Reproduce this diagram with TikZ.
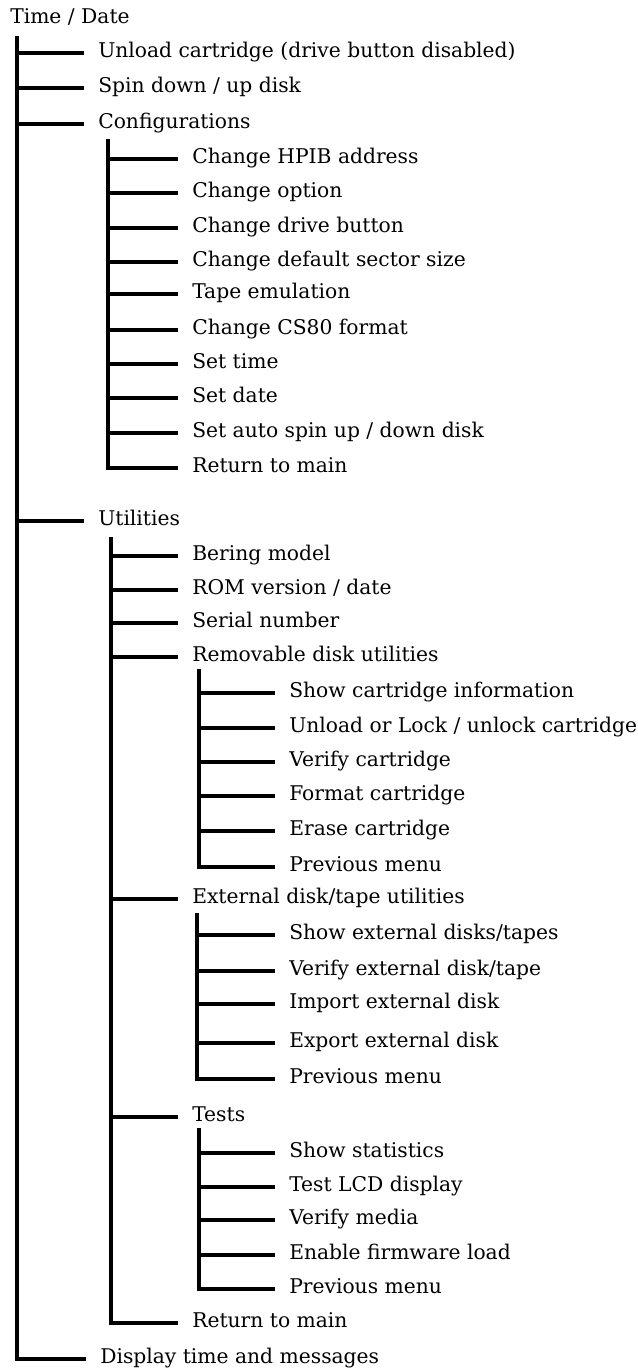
\documentclass[tikz,border=0pt]{standalone}
\usepackage{fontspec}
\setmainfont{DejaVu Serif}
\tikzset{
    item/.style={anchor=west, inner xsep=10.5pt, inner ysep=0pt, text height=1.03em, text depth=0.3em, font=\fontsize{15.2}{18}\selectfont},
    branch/.style={line width=2.6pt},
}
\begin{document}
\begin{tikzpicture}[x=0.75pt, y=-0.75pt]
    \useasboundingbox (0, 0) rectangle (638, 1369);

    \node[item, inner xsep=0pt] (root) at (10, 19) {Time / Date};

    \node[item] (unload) at (84, 53) {Unload cartridge (drive button disabled)};
    \node[item] (spin) at (84, 88) {Spin down / up disk};
    \node[item] (config) at (84, 124) {Configurations};
    \node[item] (hpib) at (178, 159) {Change HPIB address};
    \node[item] (option) at (178, 193) {Change option};
    \node[item] (button) at (178, 228) {Change drive button};
    \node[item] (sector) at (178, 262) {Change default sector size};
    \node[item] (tape) at (178, 294) {Tape emulation};
    \node[item] (cs80) at (178, 330) {Change CS80 format};
    \node[item] (settime) at (178, 364) {Set time};
    \node[item] (setdate) at (178, 398) {Set date};
    \node[item] (autospin) at (178, 433) {Set auto spin up / down disk};
    \node[item] (cfgret) at (178, 468) {Return to main};

    \node[item] (util) at (84, 521) {Utilities};
    \node[item] (bering) at (178, 556) {Bering model};
    \node[item] (rom) at (178, 590) {ROM version / date};
    \node[item] (serial) at (178, 623) {Serial number};
    \node[item] (remov) at (178, 657) {Removable disk utilities};
    \node[item] (showcart) at (275, 693) {Show cartridge information};
    \node[item] (lockcart) at (275, 728) {Unload or Lock / unlock cartridge};
    \node[item] (verifycart) at (275, 762) {Verify cartridge};
    \node[item] (fmtcart) at (275, 796) {Format cartridge};
    \node[item] (erasecart) at (275, 831) {Erase cartridge};
    \node[item] (remprev) at (275, 867) {Previous menu};
    \node[item] (extern) at (178, 899) {External disk/tape utilities};
    \node[item] (showext) at (275, 935) {Show external disks/tapes};
    \node[item] (verifyext) at (275, 971) {Verify external disk/tape};
    \node[item] (importext) at (275, 1004) {Import external disk};
    \node[item] (exportext) at (275, 1043) {Export external disk};
    \node[item] (extprev) at (275, 1079) {Previous menu};
    \node[item] (tests) at (178, 1117) {Tests};
    \node[item] (stats) at (275, 1153) {Show statistics};
    \node[item] (lcd) at (275, 1187) {Test LCD display};
    \node[item] (media) at (275, 1220) {Verify media};
    \node[item] (firmware) at (275, 1255) {Enable firmware load};
    \node[item] (testprev) at (275, 1289) {Previous menu};
    \node[item] (utilret) at (178, 1323) {Return to main};

    \node[item] (disp) at (86, 1359) {Display time and messages};

    \coordinate (t0) at (17, 36);
    \coordinate (tcfg) at (108, 139);
    \coordinate (tutil) at (111, 537);
    \coordinate (trem) at (199, 669);
    \coordinate (text) at (197, 913);
    \coordinate (ttest) at (199, 1128);

    \draw[branch] (t0) |- (disp.west);
    \foreach \n in {unload,spin,config,util}
        \draw[branch] (t0 |- \n.west) -- (\n.west);

    \draw[branch] (tcfg) |- (cfgret.west);
    \foreach \n in {hpib,option,button,sector,tape,cs80,settime,setdate,autospin}
        \draw[branch] (tcfg |- \n.west) -- (\n.west);

    \draw[branch] (tutil) |- (utilret.west);
    \foreach \n in {bering,rom,serial,remov,extern,tests}
        \draw[branch] (tutil |- \n.west) -- (\n.west);

    \draw[branch] (trem) |- (remprev.west);
    \foreach \n in {showcart,lockcart,verifycart,fmtcart,erasecart}
        \draw[branch] (trem |- \n.west) -- (\n.west);

    \draw[branch] (text) |- (extprev.west);
    \foreach \n in {showext,verifyext,importext,exportext}
        \draw[branch] (text |- \n.west) -- (\n.west);

    \draw[branch] (ttest) |- (testprev.west);
    \foreach \n in {stats,lcd,media,firmware}
        \draw[branch] (ttest |- \n.west) -- (\n.west);
  \end{tikzpicture}
\end{document}
